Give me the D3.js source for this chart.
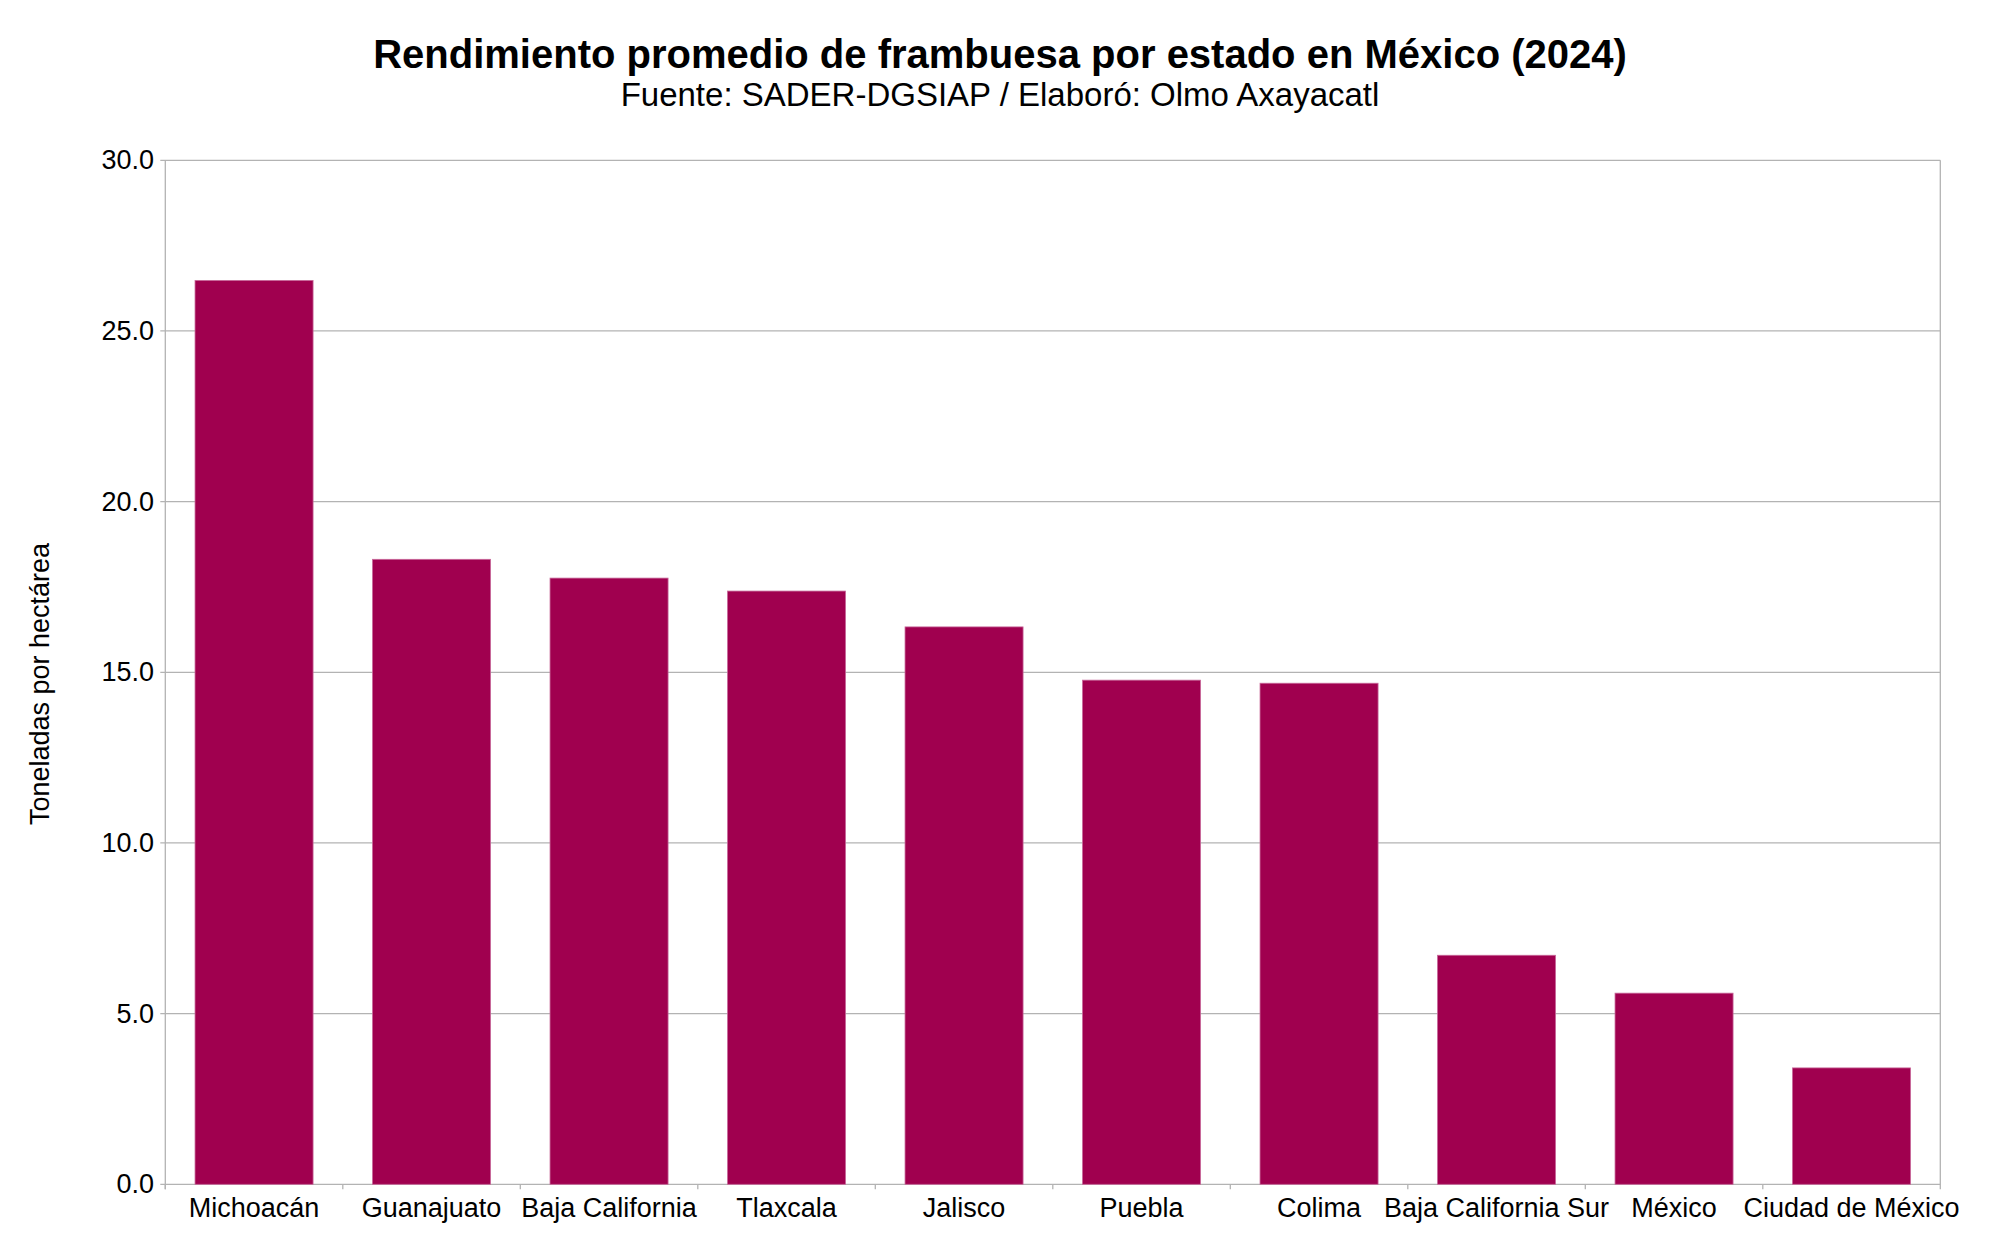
<!DOCTYPE html>
<html>
<head>
<meta charset="utf-8">
<script src="https://cdn.jsdelivr.net/npm/d3@7"></script>
<style>
  body { margin: 0; background: #fff; }
  svg text { font-family: "Liberation Sans", Arial, sans-serif; fill: #000; }
</style>
</head>
<body>
<div id="chart"></div>
<script>
// datos
var estados = ["Michoacán", "Guanajuato", "Baja California", "Tlaxcala", "Jalisco",
               "Puebla", "Colima", "Baja California Sur", "México", "Ciudad de México"];
var rendimiento = [26.48, 18.31, 17.76, 17.38, 16.33, 14.77, 14.68, 6.71, 5.60, 3.41];
var yTicks = [0, 5, 10, 15, 20, 25, 30];

var W = 2000, H = 1249;
var mLeft = 165.3, mRight = 1940.3, mTop = 160.3, mBottom = 1184.3;

var svg = d3.select("#chart").append("svg")
    .attr("width", W)
    .attr("height", H);

var x = d3.scaleBand()
    .domain(estados)
    .range([mLeft, mRight])
    .paddingInner(0.335)
    .paddingOuter(0.1675);

var y = d3.scaleLinear()
    .domain([0, 30])
    .range([mBottom, mTop]);

// rejilla
svg.append("g")
  .selectAll("line")
  .data(yTicks)
  .enter()
  .append("line")
    .attr("x1", mLeft - 5)
    .attr("x2", mRight)
    .attr("y1", function(d) { return y(d); })
    .attr("y2", function(d) { return y(d); })
    .attr("stroke", "#b3b3b3")
    .attr("stroke-width", 1.3);

// bordes verticales
svg.append("line")
    .attr("x1", mLeft).attr("x2", mLeft)
    .attr("y1", mTop).attr("y2", mBottom + 5)
    .attr("stroke", "#b3b3b3").attr("stroke-width", 1.3);
svg.append("line")
    .attr("x1", mRight).attr("x2", mRight)
    .attr("y1", mTop).attr("y2", mBottom + 5)
    .attr("stroke", "#b3b3b3").attr("stroke-width", 1.3);

// marcas del eje x (limites de banda)
var step = x.step();
svg.append("g")
  .selectAll("line")
  .data(estados)
  .enter()
  .append("line")
    .attr("x1", function(d) { return x(d) - step * 0.335 / 2; })
    .attr("x2", function(d) { return x(d) - step * 0.335 / 2; })
    .attr("y1", mBottom)
    .attr("y2", mBottom + 5)
    .attr("stroke", "#b3b3b3")
    .attr("stroke-width", 1.3);

// barras
svg.append("g")
  .selectAll("rect")
  .data(rendimiento)
  .enter()
  .append("rect")
    .attr("x", function(d, i) { return x(estados[i]); })
    .attr("y", function(d) { return y(d); })
    .attr("width", x.bandwidth())
    .attr("height", function(d) { return mBottom - y(d); })
    .attr("fill", "#a0004f")
    .attr("stroke", "#c8689a")
    .attr("stroke-width", 0.8);

// etiquetas eje y
svg.append("g")
  .selectAll("text")
  .data(yTicks)
  .enter()
  .append("text")
    .attr("x", 154)
    .attr("y", function(d) { return y(d) + 9; })
    .attr("text-anchor", "end")
    .style("font-size", "27px")
    .text(function(d) { return d3.format(".1f")(d); });

// etiquetas eje x
svg.append("g")
  .selectAll("text")
  .data(estados)
  .enter()
  .append("text")
    .attr("x", function(d) { return x(d) + x.bandwidth() / 2; })
    .attr("y", 1216.5)
    .attr("text-anchor", "middle")
    .style("font-size", "27px")
    .text(function(d) { return d; });

// titulo eje y
svg.append("text")
    .attr("transform", "translate(49,684) rotate(-90)")
    .attr("text-anchor", "middle")
    .style("font-size", "27px")
    .text("Toneladas por hectárea");

// titulos
svg.append("text")
    .attr("x", 1000)
    .attr("y", 68)
    .attr("text-anchor", "middle")
    .style("font-size", "40px")
    .style("font-weight", "bold")
    .text("Rendimiento promedio de frambuesa por estado en México (2024)");

svg.append("text")
    .attr("x", 1000)
    .attr("y", 106)
    .attr("text-anchor", "middle")
    .style("font-size", "33px")
    .text("Fuente: SADER-DGSIAP / Elaboró: Olmo Axayacatl");
</script>
</body>
</html>
